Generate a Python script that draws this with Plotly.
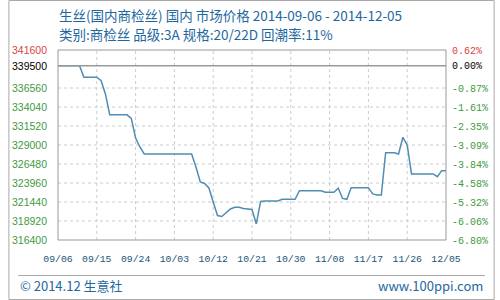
import plotly.graph_objects as go
import pandas as pd

dates = pd.date_range("2014-09-06", "2014-12-05", freq="D")
prices = [
    339500, 339500, 339500, 339500, 339500, 339500,
    338000, 338000, 338000, 338000,
    337530, 335770,
    333000, 333000, 333000, 333000, 333000,
    332520, 329930, 328740,
    327810, 327810, 327810, 327810, 327810, 327810,
    327810, 327810, 327810, 327810, 327810, 327810,
    326090, 324100, 323900, 323300, 321440, 319650, 319520, 320050,
    320520, 320740, 320740, 320580, 320480, 320450, 318530,
    321510,
    321580, 321580, 321580, 321580,
    321800, 321800, 321800, 321800,
    322940, 322940, 322940, 322940, 322940, 322940,
    322730, 322730, 322730,
    323260, 321910, 321800,
    323340, 323340, 323340, 323340, 323340,
    322510, 322370, 322370,
    327980, 327980, 327980,
    327810, 330020, 329000,
    325160, 325160, 325160, 325160, 325160, 325160,
    324800, 325600, 325600,
]
base_price = 339500
y_ticks = [316400, 318920, 321440, 323960, 326480, 329000, 331520, 334040, 336560, 339500, 341600]
x_ticks = ["09/06", "09/15", "09/24", "10/03", "10/12", "10/21", "10/30", "11/08", "11/17", "11/26", "12/05"]

title1 = "生丝(国内商检丝) 国内 市场价格 2014-09-06 - 2014-12-05"
title2 = "类别:商检丝 品级:3A 规格:20/22D 回潮率:11%"
footer_left = "© 2014.12 生意社"
footer_right = "www.100ppi.com"

W, H = 500, 300
L, R, T, B = 51, 50, 50, 60
pw, ph = W - L - R, H - T - B


def px(x):
    return (x - L) / pw


def py(y):
    return (H - B - y) / ph


def tick_color(v):
    if v == y_ticks[-1]:
        return "#d9443f"
    if v == base_price:
        return "#000000"
    return "#3f9a3f"


left_text = [f"<span style='color:{tick_color(v)}'>{v}</span>" for v in y_ticks]
right_text = [f"<span style='color:{tick_color(v)}'>{(v / base_price - 1) * 100:.2f}%</span>" for v in y_ticks]

x_tick_dates = [dates[0] + pd.Timedelta(days=9 * i) for i in range(len(x_ticks))]

fig = go.Figure()
fig.add_trace(go.Scatter(x=dates, y=prices, mode="lines",
                         line=dict(color="#4f8db3", width=1.5), hoverinfo="skip",
                         showlegend=False))
fig.add_trace(go.Scatter(x=[dates[0]], y=[base_price], yaxis="y2", mode="markers",
                         marker=dict(opacity=0), hoverinfo="skip", showlegend=False))

grid_y = [v for v in y_ticks if v not in (base_price, y_ticks[0], y_ticks[-1])]
shapes = []
for v in grid_y:
    shapes.append(dict(type="line", xref="paper", yref="y", x0=0, x1=1, y0=v, y1=v,
                       line=dict(color="#cccccc", width=1, dash="3px,3px"), layer="below"))
for d in x_tick_dates[1:-1]:
    shapes.append(dict(type="line", xref="x", yref="paper", x0=d, x1=d, y0=0, y1=1,
                       line=dict(color="#cccccc", width=1, dash="3px,3px"), layer="below"))
shapes.append(dict(type="line", xref="paper", yref="y", x0=0, x1=1, y0=base_price, y1=base_price,
                   line=dict(color="#999999", width=1.5)))
# plot frame
shapes.append(dict(type="rect", xref="paper", yref="paper", x0=0, x1=1, y0=0, y1=1,
                   line=dict(color="#999999", width=1)))
# outer border
shapes.append(dict(type="rect", xref="paper", yref="paper", x0=px(0.5), x1=px(499.5),
                   y0=py(299.5), y1=py(0.5), line=dict(color="#aaaaaa", width=1)))
# footer separator
shapes.append(dict(type="line", xref="paper", yref="paper", x0=px(10), x1=px(490),
                   y0=py(275.5), y1=py(275.5), line=dict(color="#aaaaaa", width=1)))

title_color = "#1e68a0"
annotations = [
    dict(text=title1, x=px(50), y=py(15), xref="paper", yref="paper", xanchor="left",
         yanchor="middle", showarrow=False,
         font=dict(family="Noto Sans CJK SC", size=13.5, color=title_color)),
    dict(text=title2, x=px(50), y=py(34), xref="paper", yref="paper", xanchor="left",
         yanchor="middle", showarrow=False,
         font=dict(family="Noto Sans CJK SC", size=13.5, color=title_color)),
    dict(text=footer_left, x=px(10), y=py(285), xref="paper", yref="paper", xanchor="left",
         yanchor="middle", showarrow=False,
         font=dict(family="Noto Sans CJK SC", size=13, color=title_color)),
    dict(text=footer_right, x=px(490), y=py(285), xref="paper", yref="paper", xanchor="right",
         yanchor="middle", showarrow=False,
         font=dict(family="Noto Sans CJK SC", size=13, color=title_color)),
]

fig.update_layout(
    width=W, height=H,
    margin=dict(l=L, r=R, t=T, b=B, pad=0),
    paper_bgcolor="white", plot_bgcolor="white",
    showlegend=False,
    shapes=shapes,
    annotations=annotations,
    xaxis=dict(type="date", range=[dates[0], dates[-1]], tickvals=x_tick_dates, ticktext=x_ticks,
               showgrid=False, zeroline=False, showline=False, ticks="",
               tickfont=dict(family="Liberation Mono", size=9.8, color="#1d5577"), ticklabelstandoff=11),
    yaxis=dict(range=[y_ticks[0], y_ticks[-1]], tickvals=y_ticks, ticktext=left_text,
               showgrid=False, zeroline=False, showline=False, ticks="",
               tickfont=dict(family="Liberation Sans", size=10.5), ticklabelstandoff=10),
    yaxis2=dict(range=[y_ticks[0], y_ticks[-1]], tickvals=y_ticks, ticktext=right_text,
                overlaying="y", side="right", showgrid=False, zeroline=False, showline=False,
                ticks="", tickfont=dict(family="Liberation Mono", size=10), ticklabelstandoff=5),
)

fig.write_html("out.html")
